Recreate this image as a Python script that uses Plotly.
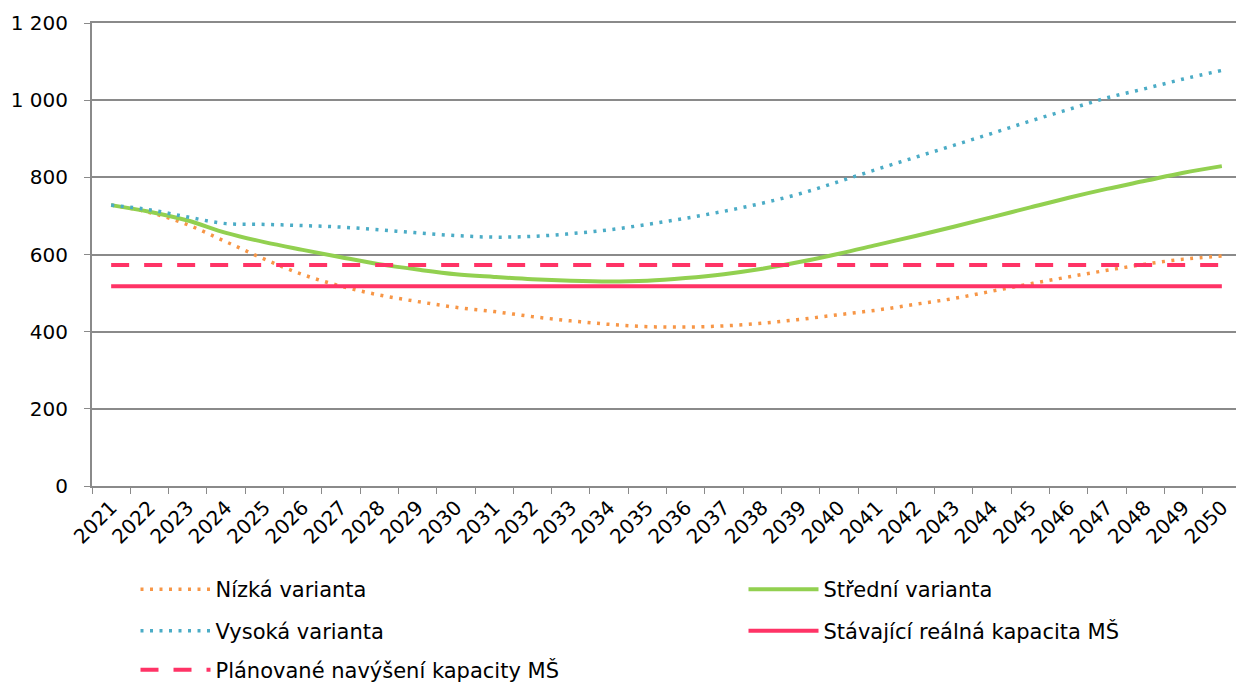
import plotly.graph_objects as go

years = [str(y) for y in range(2021, 2051)]

nizka = [728, 709, 677, 633, 588, 548, 518, 495, 478, 463,
         452, 439, 428, 419, 413, 412, 415, 422, 432, 444,
         456, 471, 486, 505, 524, 542, 559, 575, 588, 596]
stredni = [728, 711, 688, 656, 632, 612, 593, 575, 561, 549,
           542, 536, 532, 530, 532, 539, 549, 563, 581, 602,
           625, 648, 672, 697, 722, 747, 770, 791, 812, 829]
vysoka = [728, 716, 697, 680, 678, 675, 671, 664, 656, 649,
          645, 647, 654, 664, 678, 694, 712, 733, 758, 789,
          821, 852, 883, 914, 946, 976, 1006, 1030, 1055, 1077]
stavajici = [518, 518, 518, 518, 518, 518, 518, 518, 518, 518,
             518, 518, 518, 518, 518, 518, 518, 518, 518, 518,
             518, 518, 518, 518, 518, 518, 518, 518, 518, 518]
planovane = [573, 573, 573, 573, 573, 573, 573, 573, 573, 573,
             573, 573, 573, 573, 573, 573, 573, 573, 573, 573,
             573, 573, 573, 573, 573, 573, 573, 573, 573, 573]

y_ticks = [0, 200, 400, 600, 800, 1000, 1200]
y_tick_labels = ["0", "200", "400", "600", "800", "1 000", "1 200"]

ORANGE = "#F79646"
GREEN = "#92D050"
BLUE = "#4BACC6"
PINK = "#FF3366"
GRID = "#8A8A8A"
FONT = "Verdana, DejaVu Sans, sans-serif"

FIG_W = 1236
FIG_H = 682
plot_left = 92
plot_top = 23
plot_bottom = 486
plot_w = FIG_W - plot_left
plot_h = plot_bottom - plot_top
cat_step = 38.3  # px per category in the reference
x_max = plot_w / cat_step - 0.5  # plot area runs past the right page edge

fig = go.Figure()
fig.add_trace(go.Scatter(x=years, y=nizka, name="Nízká varianta", mode="lines",
                         line=dict(color=ORANGE, width=3.5, dash="3px,6.5px", shape="spline"),
                         legend="legend"))
fig.add_trace(go.Scatter(x=years, y=stredni, name="Střední varianta", mode="lines",
                         line=dict(color=GREEN, width=4, shape="spline"),
                         legend="legend2"))
fig.add_trace(go.Scatter(x=years, y=vysoka, name="Vysoká varianta", mode="lines",
                         line=dict(color=BLUE, width=3.5, dash="3px,6.5px", shape="spline"),
                         legend="legend3"))
fig.add_trace(go.Scatter(x=years, y=stavajici, name="Stávající reálná kapacita MŠ", mode="lines",
                         line=dict(color=PINK, width=4),
                         legend="legend4"))
fig.add_trace(go.Scatter(x=years, y=planovane, name="Plánované navýšení kapacity MŠ", mode="lines",
                         line=dict(color=PINK, width=4, dash="18px,15px"),
                         legend="legend5"))


def lx(screen_x):
    return (screen_x - plot_left) / plot_w


def ly(screen_y):
    return (plot_bottom - screen_y) / plot_h


leg_common = dict(orientation="h", xanchor="left", yanchor="middle",
                  font=dict(family=FONT, size=21, color="#000"),
                  bgcolor="rgba(0,0,0,0)", itemwidth=70)

col1 = lx(135.5)
col2 = lx(743.5)
row1, row2, row3 = ly(589.5), ly(631), ly(670)

fig.update_layout(
    width=FIG_W, height=FIG_H,
    margin=dict(l=plot_left, r=0, t=plot_top, b=FIG_H - plot_bottom, autoexpand=False),
    paper_bgcolor="white", plot_bgcolor="white",
    font=dict(family=FONT, size=20, color="#000"),
    showlegend=True,
    legend=dict(x=col1, y=row1, **leg_common),
    legend2=dict(x=col2, y=row1, **leg_common),
    legend3=dict(x=col1, y=row2, **leg_common),
    legend4=dict(x=col2, y=row2, **leg_common),
    legend5=dict(x=col1, y=row3, **leg_common),
    xaxis=dict(type="category", range=[-0.5, x_max], tickangle=-45,
               tickson="boundaries", ticks="outside", ticklen=6, tickcolor=GRID,
               showline=True, linecolor=GRID, linewidth=2, showgrid=False,
               mirror=True, automargin=False,
               tickfont=dict(family=FONT, size=20, color="#000")),
    yaxis=dict(range=[0, 1200], tickvals=y_ticks, ticktext=y_tick_labels,
               ticks="outside", ticklen=6, tickcolor=GRID,
               showline=True, linecolor=GRID, linewidth=2,
               showgrid=True, gridcolor=GRID, gridwidth=1.5, zeroline=False,
               automargin=False, ticklabelstandoff=12,
               tickfont=dict(family=FONT, size=20, color="#000")),
)

fig.write_html("out.html",
               config={"displayModeBar": False},
               post_script="document.body.style.margin='0';document.body.style.overflow='hidden';")
